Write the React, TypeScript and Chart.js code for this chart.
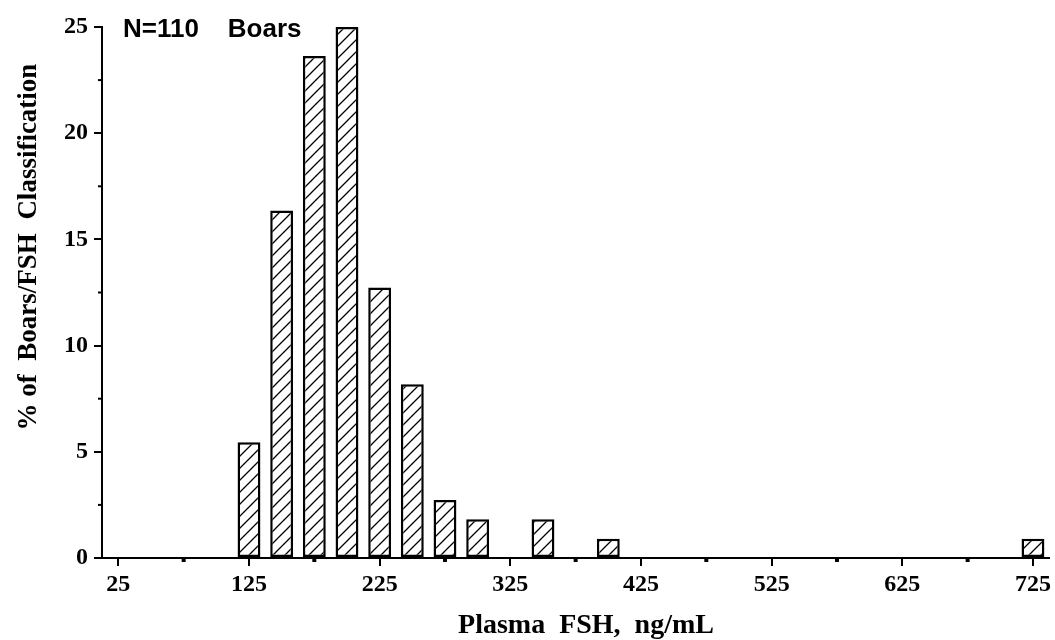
import React, { useEffect, useRef } from 'react';
import { Chart, registerables } from 'chart.js';

Chart.register(...registerables);

// FSH classes (ng/mL)
const categories: string[] = [
  '25', '50', '75', '100', '125', '150', '175', '200', '225', '250', '275', '300', '325', '350', '375',
  '400', '425', '450', '475', '500', '525', '550', '575', '600', '625', '650', '675', '700', '725',
];

// % of boars in each FSH class (N = 110)
const percentBoars: number[] = [
  0, 0, 0, 0, 5.45, 16.36, 23.64, 25.0, 12.73, 8.18, 2.73, 1.82, 0, 1.82, 0,
  0.91, 0, 0, 0, 0, 0, 0, 0, 0, 0, 0, 0, 0, 0.91,
];

const xTickLabels: string[] = ['25', '125', '225', '325', '425', '525', '625', '725'];
const xMinorTicks: string[] = ['75', '175', '275', '375', '475', '575', '675'];
const yTickLabels: number[] = [0, 5, 10, 15, 20, 25];

const annotationText = 'N=110    Boars';
const xTitle = 'Plasma  FSH,  ng/mL';
const yTitle = '% of  Boars/FSH  Classification';

function makeHatch(): CanvasPattern | string {
  const size = 12;
  const c = document.createElement('canvas');
  c.width = size;
  c.height = size;
  const g = c.getContext('2d');
  if (!g) return '#fff';
  g.fillStyle = '#ffffff';
  g.fillRect(0, 0, size, size);
  g.strokeStyle = '#000000';
  g.lineWidth = 1.3;
  g.beginPath();
  g.moveTo(-size, size * 2);
  g.lineTo(size * 2, -size);
  g.moveTo(-size, size);
  g.lineTo(size, -size);
  g.moveTo(0, size * 2);
  g.lineTo(size * 2, 0);
  g.stroke();
  const p = g.createPattern(c, 'repeat');
  return p || '#fff';
}

const decorPlugin = {
  id: 'decor',
  afterDraw(chart: any) {
    const ctx = chart.ctx as CanvasRenderingContext2D;
    const xs = chart.scales.x;
    const ys = chart.scales.y;
    const area = chart.chartArea;
    ctx.save();
    ctx.fillStyle = '#000';
    ctx.strokeStyle = '#000';
    // minor y ticks
    ctx.lineWidth = 2;
    ys.ticks.forEach((t: any) => {
      if (!yTickLabels.includes(t.value)) {
        const y = ys.getPixelForValue(t.value);
        ctx.beginPath();
        ctx.moveTo(area.left, y);
        ctx.lineTo(area.left - 4, y);
        ctx.stroke();
      }
    });
    // minor x ticks
    xMinorTicks.forEach((lab) => {
      const idx = categories.indexOf(lab);
      const x = xs.getPixelForValue(idx);
      ctx.fillRect(x - 2, area.bottom, 4, 4);
    });
    // annotation
    ctx.font = 'bold 26px "Liberation Sans", Arial, sans-serif';
    ctx.textAlign = 'left';
    ctx.textBaseline = 'alphabetic';
    ctx.fillText(annotationText, area.left + 21, 37);
    // x title
    ctx.font = 'bold 28px "Liberation Serif", "Times New Roman", serif';
    ctx.textAlign = 'center';
    ctx.fillText(xTitle, 586, 633);
    // y title
    ctx.font = 'bold 27px "Liberation Serif", "Times New Roman", serif';
    ctx.save();
    ctx.translate(36, 247);
    ctx.rotate(-Math.PI / 2);
    ctx.textAlign = 'center';
    ctx.fillText(yTitle, 0, 0);
    ctx.restore();
    ctx.restore();
  },
};

export default function App() {
  const ref = useRef<HTMLCanvasElement | null>(null);

  useEffect(() => {
    document.body.style.margin = '0';
    const canvas = ref.current;
    if (!canvas) return;
    const tickFont = { family: '"Liberation Serif", "Times New Roman", serif', size: 24, weight: 'bold' as const };
    const chart = new Chart(canvas, {
      type: 'bar',
      data: {
        labels: categories,
        datasets: [
          {
            data: percentBoars,
            backgroundColor: makeHatch() as any,
            borderColor: '#000',
            borderWidth: 2.5,
            borderSkipped: false,
            barPercentage: 0.7,
            categoryPercentage: 1.0,
          },
        ],
      },
      options: {
        responsive: false,
        animation: false,
        devicePixelRatio: 1,
        layout: { padding: { top: 27, right: 2, left: 0, bottom: 0 } },
        plugins: { legend: { display: false }, tooltip: { enabled: false }, title: { display: false } },
        scales: {
          x: {
            type: 'category',
            offset: true,
            afterFit: (s: any) => {
              s.height = 82;
            },
            border: { display: true, color: '#000', width: 2 },
            grid: {
              offset: false,
              drawOnChartArea: false,
              drawTicks: true,
              tickLength: 8,
              lineWidth: 2,
              color: (c: any) =>
                c.index !== undefined && xTickLabels.includes(categories[c.index]) ? '#000' : 'rgba(0,0,0,0)',
            },
            ticks: {
              autoSkip: false,
              maxRotation: 0,
              minRotation: 0,
              padding: 4,
              color: '#000',
              font: tickFont,
              callback: (_v: any, i: number) => (xTickLabels.includes(categories[i]) ? categories[i] : ''),
            },
          },
          y: {
            type: 'linear',
            min: 0,
            max: 25,
            afterFit: (s: any) => {
              s.width = 102;
            },
            border: { display: true, color: '#000', width: 2 },
            grid: {
              drawOnChartArea: false,
              drawTicks: true,
              tickLength: 8,
              lineWidth: 2,
              color: (c: any) =>
                c.tick && yTickLabels.includes(c.tick.value) ? '#000' : 'rgba(0,0,0,0)',
            },
            ticks: {
              stepSize: 2.5,
              padding: 6,
              color: '#000',
              font: tickFont,
              callback: (v: any) => (yTickLabels.includes(Number(v)) ? String(v) : ''),
            },
          },
        },
      },
      plugins: [decorPlugin],
    });
    return () => chart.destroy();
  }, []);

  return (
    <div style={{ width: 1055, height: 640, background: '#fff' }}>
      <canvas ref={ref} width={1055} height={640} style={{ display: 'block' }} />
    </div>
  );
}
